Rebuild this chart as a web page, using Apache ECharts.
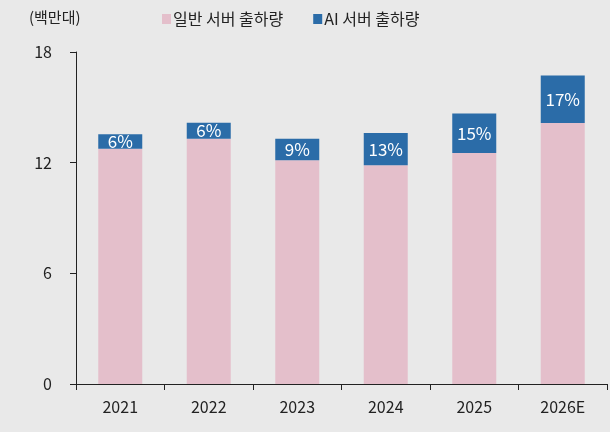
<!DOCTYPE html>
<html>
<head>
<meta charset="utf-8">
<script src="https://cdn.jsdelivr.net/npm/echarts@6/dist/echarts.min.js"></script>
<style>
  html, body { margin: 0; padding: 0; background: #e9e9e9; }
  #chart { width: 610px; height: 432px; }
</style>
</head>
<body>
<div id="chart"></div>
<script>
// 연도별 서버 출하량 (백만대)
const years = ['2021', '2022', '2023', '2024', '2025', '2026E'];
const normalServers = [12.76, 13.30, 12.13, 11.86, 12.52, 14.15];
const aiServers = [0.78, 0.87, 1.17, 1.75, 2.14, 2.58];
const aiShare = ['6%', '6%', '9%', '13%', '15%', '17%'];

const FONT = '"Noto Sans CJK KR", "Noto Sans", sans-serif';

const chart = echarts.init(document.getElementById('chart'));

chart.setOption({
  backgroundColor: '#e9e9e9',
  animation: false,
  textStyle: { fontFamily: FONT },
  grid: { left: 76, right: 3, top: 52, bottom: 48 },
  title: {
    text: '(백만대)',
    left: 24,
    top: 5,
    textStyle: { fontSize: 15, fontWeight: 'normal', color: '#222', fontFamily: FONT }
  },
  legend: {
    left: 157,
    top: 6,
    itemWidth: 9,
    itemHeight: 10,
    itemGap: 30,
    icon: 'rect',
    textStyle: { fontSize: 16, color: '#222', padding: [0, 0, 0, -3] },
    data: ['일반 서버 출하량', 'AI 서버 출하량']
  },
  xAxis: {
    type: 'category',
    data: years,
    axisLine: { lineStyle: { color: '#222', width: 1 } },
    axisTick: { show: true, length: 6, lineStyle: { color: '#222' } },
    axisLabel: { fontSize: 16, color: '#222', margin: 15 }
  },
  yAxis: {
    type: 'value',
    min: 0,
    max: 18,
    interval: 6,
    splitLine: { show: false },
    axisLine: { show: true, lineStyle: { color: '#222' } },
    axisTick: { show: true, length: 6, lineStyle: { color: '#222' } },
    axisLabel: { fontSize: 16, color: '#222', margin: 24 }
  },
  series: [
    {
      name: '일반 서버 출하량',
      type: 'bar',
      stack: 'total',
      barWidth: 44,
      itemStyle: { color: '#e4bfcb' },
      data: normalServers
    },
    {
      name: 'AI 서버 출하량',
      type: 'bar',
      stack: 'total',
      barWidth: 44,
      itemStyle: { color: '#2b6ca8' },
      label: {
        show: true,
        position: 'inside',
        color: '#fff',
        fontSize: 17,
        formatter: p => aiShare[p.dataIndex]
      },
      data: aiServers
    }
  ]
});
</script>
</body>
</html>
